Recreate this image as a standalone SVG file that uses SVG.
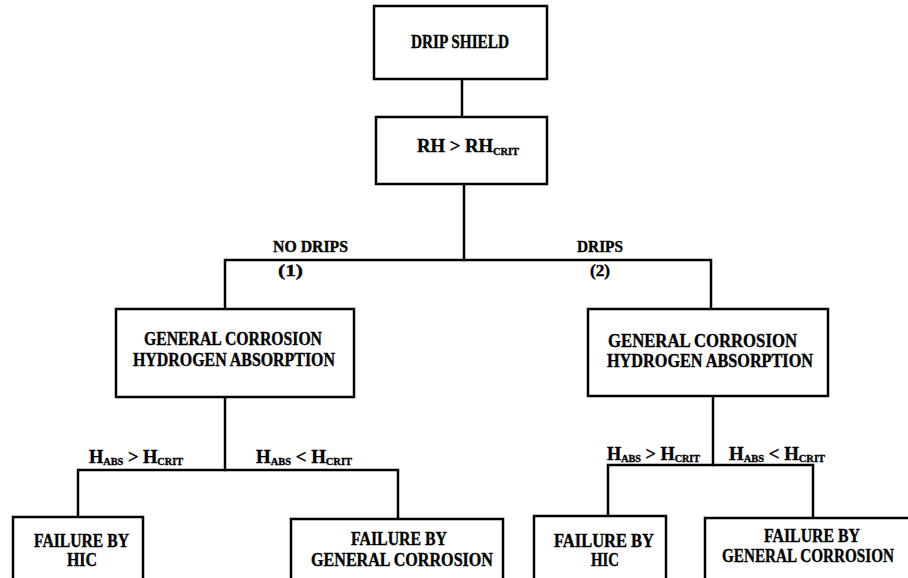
<svg xmlns="http://www.w3.org/2000/svg" width="908" height="578" viewBox="0 0 908 578">
  <style>
    .box { fill: #fff; stroke: #000; stroke-width: 2.5; }
    .wire { fill: none; stroke: #000; stroke-width: 2.5; stroke-linecap: square; }
    text { font-family: "Liberation Serif", "DejaVu Serif", "Times New Roman", serif; font-weight: bold; fill: #000; stroke: #000; stroke-width: 0.35; }
    .t { font-size: 18px; }
    .s { font-size: 16px; }
    .c { font-size: 18px; }
    .sub { font-size: 10px; }
  </style>
  <rect width="908" height="578" fill="#fff" stroke="none"/>

  <!-- connectors -->
  <g id="connectors">
    <path class="wire" d="M462 79 V117"/>
    <path class="wire" d="M464 184 V260"/>
    <path class="wire" d="M225 309 V260 H711 V309"/>
    <path class="wire" d="M225 397 V470"/>
    <path class="wire" d="M78 517 V470 H398 V519"/>
    <path class="wire" d="M713 396 V465"/>
    <path class="wire" d="M608 516 V465 H813 V518"/>
  </g>

  <!-- branch labels -->
  <g id="branch-labels">
    <text class="s" x="273" y="252" textLength="75" lengthAdjust="spacingAndGlyphs">NO DRIPS</text>
    <text class="s" x="278" y="276" textLength="25" lengthAdjust="spacingAndGlyphs">(1)</text>
    <text class="s" x="577" y="252" textLength="46" lengthAdjust="spacingAndGlyphs">DRIPS</text>
    <text class="s" x="590" y="276" textLength="20" lengthAdjust="spacingAndGlyphs">(2)</text>
    <text class="c" x="89" y="463" textLength="94" lengthAdjust="spacingAndGlyphs">H<tspan class="sub" dy="2">ABS</tspan><tspan dy="-2"> &gt; H</tspan><tspan class="sub" dy="2">CRIT</tspan></text>
    <text class="c" x="256" y="463" textLength="96" lengthAdjust="spacingAndGlyphs">H<tspan class="sub" dy="2">ABS</tspan><tspan dy="-2"> &lt; H</tspan><tspan class="sub" dy="2">CRIT</tspan></text>
    <text class="c" x="607" y="460" textLength="93" lengthAdjust="spacingAndGlyphs">H<tspan class="sub" dy="2">ABS</tspan><tspan dy="-2"> &gt; H</tspan><tspan class="sub" dy="2">CRIT</tspan></text>
    <text class="c" x="729" y="460" textLength="96" lengthAdjust="spacingAndGlyphs">H<tspan class="sub" dy="2">ABS</tspan><tspan dy="-2"> &lt; H</tspan><tspan class="sub" dy="2">CRIT</tspan></text>
  </g>

  <g id="drip-shield">
    <rect class="box" x="374" y="6" width="173" height="73"/>
    <text class="t" x="411" y="48" textLength="98" lengthAdjust="spacingAndGlyphs">DRIP SHIELD</text>
  </g>

  <g id="rh-crit">
    <rect class="box" x="376" y="117" width="171" height="67"/>
    <text class="c" x="417" y="152" textLength="102" lengthAdjust="spacingAndGlyphs">RH &gt; RH<tspan class="sub" dy="3">CRIT</tspan></text>
  </g>

  <g id="no-drips-corrosion">
    <rect class="box" x="116" y="309" width="238" height="88"/>
    <text class="t" x="144" y="345" textLength="178" lengthAdjust="spacingAndGlyphs">GENERAL CORROSION</text>
    <text class="t" x="133" y="366" textLength="202" lengthAdjust="spacingAndGlyphs">HYDROGEN ABSORPTION</text>
  </g>

  <g id="drips-corrosion">
    <rect class="box" x="588" y="309" width="240" height="87"/>
    <text class="t" x="608" y="347" textLength="189" lengthAdjust="spacingAndGlyphs">GENERAL CORROSION</text>
    <text class="t" x="607" y="367" textLength="206" lengthAdjust="spacingAndGlyphs">HYDROGEN ABSORPTION</text>
  </g>

  <g id="no-drips-hic">
    <rect class="box" x="13" y="517" width="130" height="75"/>
    <text class="t" x="34" y="547" textLength="95" lengthAdjust="spacingAndGlyphs">FAILURE BY</text>
    <text class="t" x="67" y="566" textLength="30" lengthAdjust="spacingAndGlyphs">HIC</text>
  </g>

  <g id="no-drips-general">
    <rect class="box" x="291" y="519" width="212" height="75"/>
    <text class="t" x="351" y="545" textLength="96" lengthAdjust="spacingAndGlyphs">FAILURE BY</text>
    <text class="t" x="311" y="566" textLength="182" lengthAdjust="spacingAndGlyphs">GENERAL CORROSION</text>
  </g>

  <g id="drips-hic">
    <rect class="box" x="534" y="516" width="132" height="75"/>
    <text class="t" x="554" y="547" textLength="100" lengthAdjust="spacingAndGlyphs">FAILURE BY</text>
    <text class="t" x="591" y="566" textLength="28" lengthAdjust="spacingAndGlyphs">HIC</text>
  </g>

  <g id="drips-general">
    <rect class="box" x="705" y="518" width="215" height="75"/>
    <text class="t" x="764" y="542" textLength="96" lengthAdjust="spacingAndGlyphs">FAILURE BY</text>
    <text class="t" x="722" y="562" textLength="172" lengthAdjust="spacingAndGlyphs">GENERAL CORROSION</text>
  </g>
</svg>
